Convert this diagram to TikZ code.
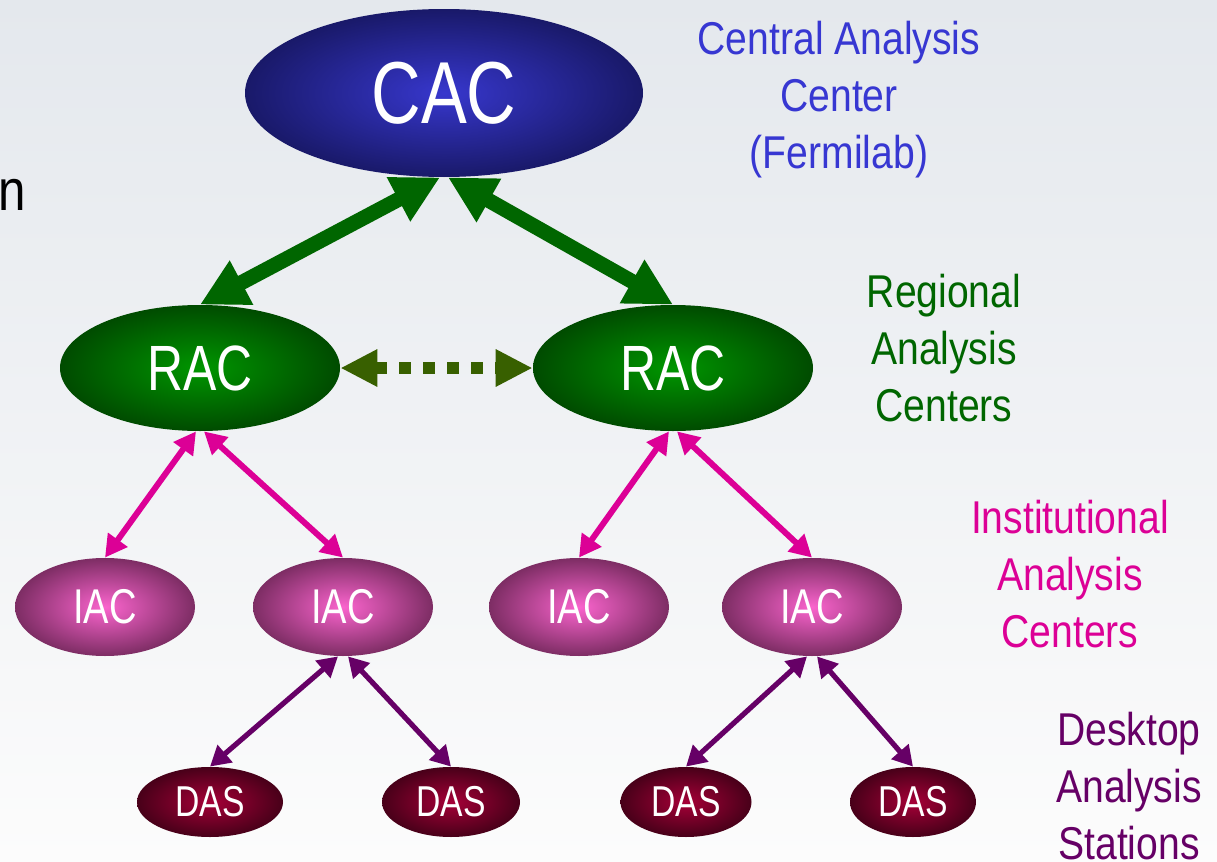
\documentclass[tikz,border=0pt]{standalone}
\usepackage{fontspec}
\newfontfamily\nodefont[FakeStretch=0.78]{Liberation Sans}
\newfontfamily\labelfont[FakeStretch=0.85]{Liberation Sans}
\usetikzlibrary{arrows.meta, shapes.geometric}
\definecolor{bgtop}{RGB}{228,232,237}
\definecolor{bgmid}{RGB}{246,247,249}
\definecolor{bgbot}{RGB}{252,252,252}
\definecolor{cacedge}{RGB}{25,25,105}
\definecolor{caccore}{RGB}{55,55,205}
\definecolor{cactext}{RGB}{55,55,210}
\definecolor{racedge}{RGB}{0,75,0}
\definecolor{raccore}{RGB}{0,150,0}
\definecolor{racline}{RGB}{0,102,0}
\definecolor{peerline}{RGB}{56,96,0}
\definecolor{iacedge}{RGB}{125,45,100}
\definecolor{iaccore}{RGB}{250,100,205}
\definecolor{iacline}{RGB}{220,0,150}
\definecolor{dasedge}{RGB}{72,0,25}
\definecolor{dascore}{RGB}{165,0,55}
\definecolor{dasline}{RGB}{102,0,102}

\begin{document}
\begin{tikzpicture}[x=0.5pt, y=-0.5pt,
    site/.style={ellipse, inner sep=0pt, text=white, shading=radial},
    cac/.style={site, minimum width=199pt, minimum height=84pt,
                inner color=caccore, outer color=cacedge,
                font=\nodefont\fontsize{44}{44}\selectfont},
    rac/.style={site, minimum width=140pt, minimum height=63pt,
                inner color=raccore, outer color=racedge,
                font=\nodefont\fontsize{32}{32}\selectfont},
    iac/.style={site, minimum width=90pt, minimum height=49pt,
                inner color=iaccore, outer color=iacedge,
                font=\nodefont\fontsize{24.4}{24.4}\selectfont},
    das/.style={site, minimum width=70pt, minimum height=35pt,
                inner color=dascore, outer color=dasedge,
                font=\nodefont\fontsize{21.6}{21.6}\selectfont},
    tier/.style={font=\labelfont\fontsize{23}{28.5}\selectfont, align=center,
                 anchor=north, inner sep=0pt},
    uplink/.style={draw=racline, line width=7.5pt, <->,
                   >={Triangle[length=23.5pt, width=23.5pt]}},
    peerlink/.style={draw=peerline, line width=6pt, <->,
                     dash pattern=on 6pt off 6pt,
                     >={Triangle[length=18.5pt, width=17.5pt]}},
    instlink/.style={draw=iacline, line width=3pt, <->,
                     >={Triangle[length=11pt, width=11.5pt]}},
    desklink/.style={draw=dasline, line width=2.6pt, <->,
                     >={Triangle[length=10pt, width=11pt]}}
  ]
  \useasboundingbox (0,0) rectangle (1217,862);
  \fill[top color=bgtop, middle color=bgmid, bottom color=bgbot] (0,0) rectangle (1217,862);

  \node[font=\labelfont\fontsize{29}{29}\selectfont, inner sep=0pt, anchor=base east]
       (cut) at (26,210) {n};

  % tiers of the analysis model
  \node[cac] (cac) at (444,93) {CAC};
  \node[rac] (rac1) at (200,368) {RAC};
  \node[rac] (rac2) at (673,368) {RAC};
  \foreach \n/\x in {1/105, 2/343, 3/579, 4/812}
     \node[iac] (iac\n) at (\x,607) {IAC};
  \foreach \n/\x/\w in {1/210/73, 2/451/69, 3/686/65.5, 4/913/63}
     \node[das, minimum width=\w pt] (das\n) at (\x,802) {DAS};

  % links between the tiers
  \draw[uplink] ([xshift=-2pt]cac.south) -- (rac1.north);
  \draw[uplink] ([xshift=2pt]cac.south) -- (rac2.north);
  \draw[peerlink] (rac1.east) -- (rac2.west);
  \foreach \r/\a/\b in {1/1/2, 2/3/4} {
     \draw[instlink] ([xshift=-2pt]rac\r.south) -- (iac\a.north);
     \draw[instlink] ([xshift=2pt]rac\r.south) -- (iac\b.north);
  }
  \foreach \i/\a/\b in {2/1/2, 4/3/4} {
     \draw[desklink] ([xshift=-2.5pt]iac\i.south) -- (das\a.north);
     \draw[desklink] ([xshift=2.5pt]iac\i.south) -- (das\b.north);
  }

  % tier names on the right
  \node[tier, text=cactext] (cacname) at (839,21) {Central Analysis\\Center\\(Fermilab)};
  \node[tier, text=racline] (racname) at (944,274) {Regional\\Analysis\\Centers};
  \node[tier, text=iacline] (iacname) at (1070,500) {Institutional\\Analysis\\Centers};
  \node[tier, text=dasline] (dasname) at (1129,712) {Desktop\\Analysis\\Stations};
\end{tikzpicture}
\end{document}
